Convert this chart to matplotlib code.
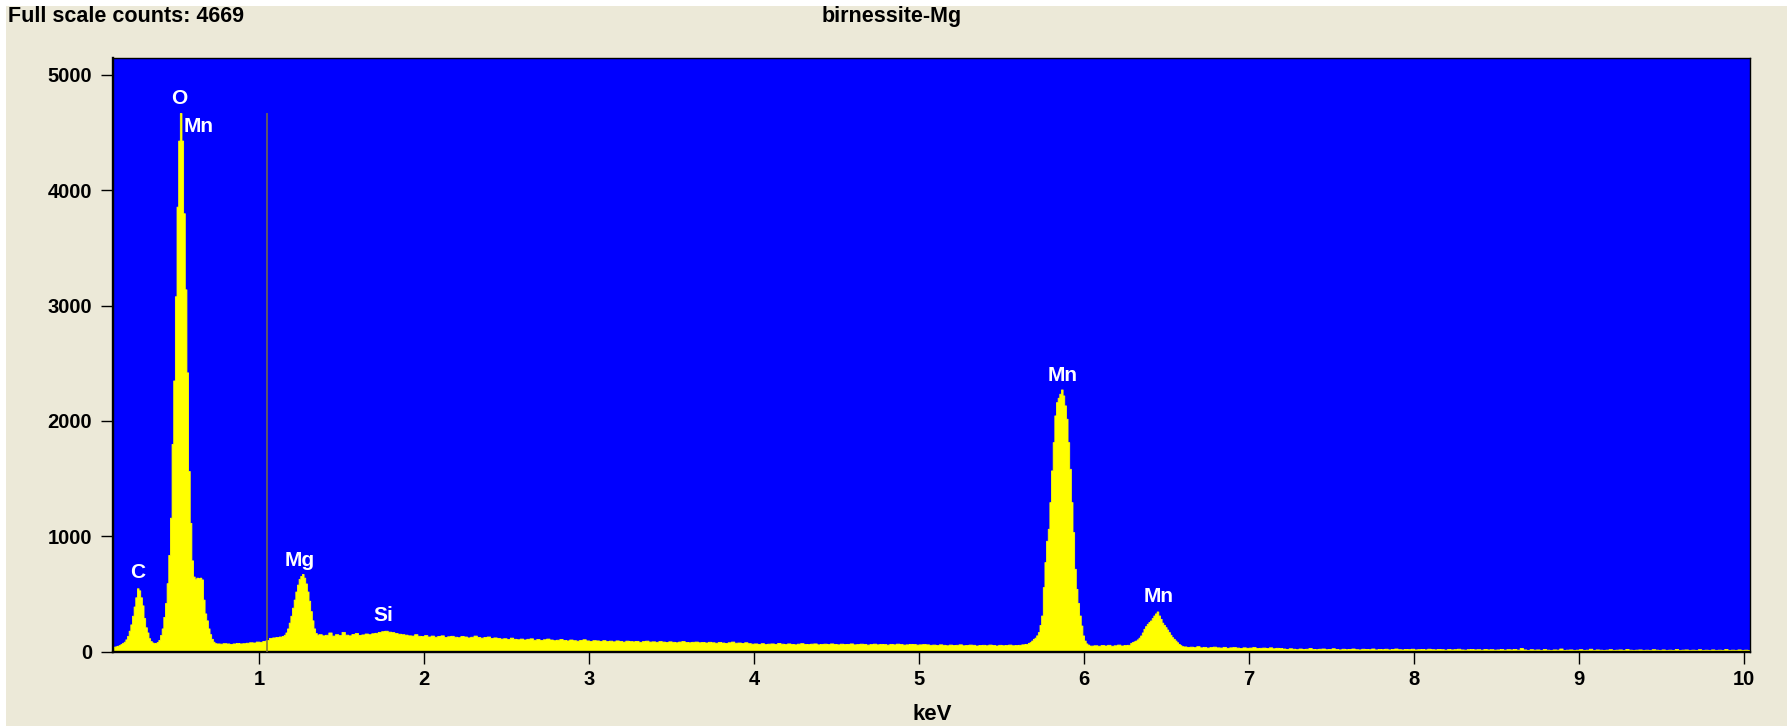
import numpy as np
import matplotlib
matplotlib.use("Agg")
import matplotlib.pyplot as plt
from matplotlib.patches import Rectangle

# ---------------- data ----------------
title_left = "Full scale counts: 4669"
title_center = "birnessite-Mg"
x_label = "keV"
full_scale_counts = 4669
cursor_kev = 1.048

x_ticks = [1, 2, 3, 4, 5, 6, 7, 8, 9, 10]
y_ticks = [0, 1000, 2000, 3000, 4000, 5000]

# spectrum segments: start energy (keV), channel width (keV), counts per channel
c_o_start, c_o_step = 0.12, 0.01
c_o_counts = [42, 45, 50, 55, 65, 75, 85, 105, 135, 180,
              235, 310, 390, 470, 548, 530, 470, 400, 290, 210,
              165, 115, 90, 78, 72, 75, 82, 100, 143, 200,
              300, 420, 592, 837, 1160, 1800, 2350, 3080, 3857, 4430,
              4669, 4430, 3800, 3140, 2420, 1565, 1115, 790, 650, 630,
              640, 635, 640, 625, 450, 330, 270, 200, 150, 110,
              85, 72]

bg_a_start, bg_a_step = 0.74, 0.02
bg_a_counts = [70, 68, 72, 70, 66, 70, 74, 70, 72, 76,
               80, 78, 86, 84, 92, 100, 118, 122, 125, 130]

mg_start, mg_step = 1.14, 0.01
mg_counts = [135, 145, 165, 200, 250, 310, 380, 450, 520, 580, 630,
             655, 672, 640, 590, 520, 440, 350, 270, 200, 160, 145]

bg_si_start, bg_si_step = 1.36, 0.02
bg_si_counts = [150, 140, 145, 165, 138, 150, 142, 170, 146, 140, 152, 160, 144,
                148, 156, 150, 158, 162, 170, 176, 180, 172, 168, 160, 154, 150]

bg_mid_start, bg_mid_step = 1.88, 0.02
bg_mid_counts = [146, 140, 138, 150, 136, 134, 142, 130, 138, 128, 135, 140, 126, 132,
                 136, 128, 124, 134, 130, 122, 128, 138, 126, 120, 125, 130, 118, 122,
                 118, 112, 115, 108, 120, 110, 106, 112, 104, 110, 114, 102, 108, 100, 106,
                 112, 104, 98, 102, 108, 100, 96, 104, 98, 94, 100, 106, 96, 92, 98,
                 96, 92, 98, 90, 94, 88, 96, 92, 86, 94, 90, 88, 92, 84, 90, 94,
                 86, 88, 84, 90, 86, 82, 88, 84, 80, 86, 90, 82, 80, 84, 86, 80]

bg_low_start, bg_low_step = 3.68, 0.02
bg_low_counts = [82, 78, 84, 80, 76, 82, 78, 74, 80, 86, 76, 78, 74, 80,
                 72, 68, 70, 66, 72, 64, 68, 70, 66, 74, 68, 64, 70, 66, 62, 68, 72, 66,
                 64, 68, 70, 62, 66, 68, 64, 70, 66, 62, 68, 64, 66, 70, 62, 64, 68, 66,
                 60, 64, 68, 62, 66, 64, 60, 66, 62, 68, 64, 60, 62, 66, 64, 60, 62, 64,
                 62, 58, 60, 56, 62, 58, 54, 60, 56, 58, 62, 54, 56, 60, 58, 52,
                 56, 58, 54, 60, 56, 52, 58, 54, 56, 60, 54, 56, 58, 62, 66]

mn_ka_start, mn_ka_step = 5.66, 0.01
mn_ka_counts = [75, 81, 95, 110, 120, 140, 168, 230, 312, 558,
                775, 960, 1064, 1295, 1570, 1815, 2047, 2162, 2200, 2235,
                2272, 2220, 2134, 2018, 1815, 1584, 1295, 1035, 717, 543,
                420, 312, 225, 139, 95, 70, 60, 52, 50, 52]

bg_c_start, bg_c_step = 6.06, 0.02
bg_c_counts = [54, 50, 56, 52, 58, 50, 54, 60, 52, 56, 58]

mn_kb_start, mn_kb_step = 6.28, 0.01
mn_kb_counts = [75, 82, 88, 95, 105, 120, 139, 165, 197, 220, 240, 255, 269, 290,
                312, 330, 347, 312, 283, 250, 231, 211, 190, 168, 145, 124, 110,
                95, 80, 66, 55, 46]

bg_high_start, bg_high_step = 6.60, 0.02
bg_high_counts = [44, 40, 42, 38, 46, 36, 40, 34, 38, 42, 36, 34, 40, 32, 36,
                  38, 34, 30, 36, 32, 34, 38, 30, 32, 34, 30, 36, 28, 32, 30,
                  26, 22, 28, 24, 20, 26, 22, 24, 30, 22, 20, 24, 26, 20, 22, 28, 22, 18,
                  24, 20, 22, 26, 20, 18, 24, 22, 20, 26, 18, 22, 20, 24, 18, 22, 26, 20,
                  18, 22, 20, 24, 18, 20, 22, 18, 24, 20, 18, 22, 20, 16, 22, 18, 20, 24,
                  18, 16, 20, 22, 18, 20, 16, 22, 18, 20, 16, 18, 22, 16, 20, 18,
                  22, 16, 30, 18, 14, 20, 16, 18, 14, 22, 16, 14, 18, 16, 26, 14, 16, 18,
                  14, 16, 20, 14, 16, 24, 14, 18, 16, 14, 16, 20, 14, 16, 18, 14, 22, 16,
                  14, 16, 18, 14, 16, 14, 20, 16, 14, 18, 14, 16, 14, 22, 14, 16, 18, 14,
                  16, 14, 20, 14, 16, 14, 18, 14, 16, 14, 22, 14, 16, 14, 18, 14, 16, 14]
spectrum_end_kev = 10.04

peak_labels = ["C", "O", "Mn", "Mg", "Si", "Mn", "Mn"]
peak_label_kev = [0.264, 0.515, 0.635, 1.245, 1.756, 5.873, 6.455]
peak_label_counts = [689, 4798, 4552, 785, 316, 2397, 477]

# ---------------- build the channel histogram ----------------
segments = [
    (c_o_start, c_o_step, c_o_counts),
    (bg_a_start, bg_a_step, bg_a_counts),
    (mg_start, mg_step, mg_counts),
    (bg_si_start, bg_si_step, bg_si_counts),
    (bg_mid_start, bg_mid_step, bg_mid_counts),
    (bg_low_start, bg_low_step, bg_low_counts),
    (mn_ka_start, mn_ka_step, mn_ka_counts),
    (bg_c_start, bg_c_step, bg_c_counts),
    (mn_kb_start, mn_kb_step, mn_kb_counts),
    (bg_high_start, bg_high_step, bg_high_counts),
]
lefts, vals = [], []
for i, (s, w, c) in enumerate(segments):
    nxt = segments[i + 1][0] if i + 1 < len(segments) else spectrum_end_kev
    e = s + w * np.arange(len(c))
    keep = e < nxt - 1e-9
    lefts.extend(e[keep].tolist())
    vals.extend(np.asarray(c)[keep].tolist())
edges = np.array(lefts + [spectrum_end_kev])
vals = np.array(vals, dtype=float)
vals_post = np.append(vals, vals[-1])

# ---------------- figure ----------------
plt.rcParams['font.family'] = ['Liberation Sans', 'DejaVu Sans']
plt.rcParams['font.weight'] = 'bold'

W, H = 1787, 726
fig = plt.figure(figsize=(W / 100, H / 100), dpi=100, facecolor='#ECE9D8')
fig.add_artist(Rectangle((0, 1 - 6 / H), 1, 6 / H, transform=fig.transFigure,
                         facecolor='white', edgecolor='none', zorder=0))
fig.add_artist(Rectangle((0, 0), 6 / W, 1, transform=fig.transFigure,
                         facecolor='white', edgecolor='none', zorder=0))

ax = fig.add_axes([113 / W, 1 - 651.5 / H, (1750 - 113) / W, (651.5 - 58) / H])
ax.set_facecolor('#0000FF')

ax.fill_between(edges, 0, vals_post, step='post', facecolor='#FFFF00',
                edgecolor='#FFFF00', linewidth=0.6, antialiased=False, zorder=2)
ax.vlines(cursor_kev, 0, full_scale_counts, color='#7A7040', lw=1.1, zorder=3)

for lab, xk, yc in zip(peak_labels, peak_label_kev, peak_label_counts):
    ax.text(xk, yc, lab, color='white', fontsize=15, fontweight='bold',
            ha='center', va='center', zorder=4)

ax.set_xlim(0.115, 10.036)
ax.set_ylim(0, 5146)
ax.set_xticks(x_ticks)
ax.set_xticklabels([str(t) for t in x_ticks])
ax.set_yticks(y_ticks)
ax.set_yticklabels([str(t) for t in y_ticks])
ax.tick_params(axis='both', direction='out', length=8.5, width=1.0, colors='black',
               labelsize=14.5, top=False, right=False)
ax.tick_params(axis='x', pad=5)
ax.tick_params(axis='y', pad=6.5)
for lbl in ax.get_xticklabels() + ax.get_yticklabels():
    lbl.set_fontweight('bold')

for side in ['left', 'bottom']:
    ax.spines[side].set_linewidth(1.7)
    ax.spines[side].set_color('black')
for side in ['top', 'right']:
    ax.spines[side].set_linewidth(1.0)
    ax.spines[side].set_color('black')

fig.text(8 / W, 1 - 16.5 / H, title_left, ha='left', va='center',
         fontsize=15.5, fontweight='bold', color='black')
fig.text(892 / W, 1 - 16.5 / H, title_center, ha='center', va='center',
         fontsize=15.5, fontweight='bold', color='black')
fig.text(932 / W, 1 - 714 / H, x_label, ha='center', va='center',
         fontsize=16, fontweight='bold', color='black')

fig.savefig('out.png', dpi=100, facecolor=fig.get_facecolor())
